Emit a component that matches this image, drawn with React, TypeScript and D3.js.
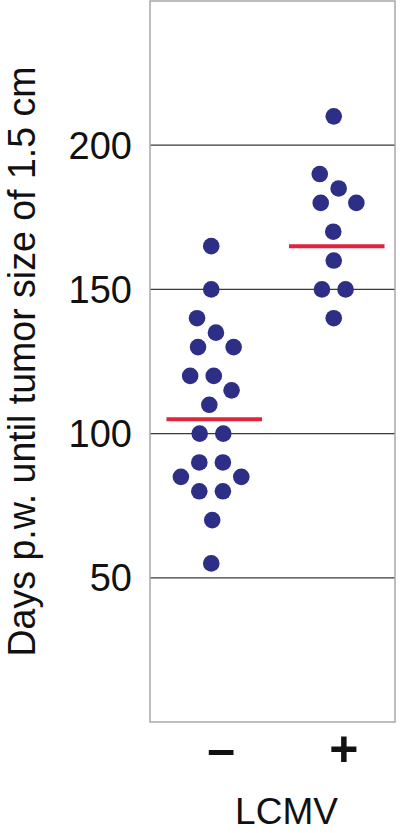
import React, { useRef, useEffect } from "react";
import * as d3 from "d3";

// LCMV groups and days post-wounding until tumor reached 1.5 cm
const groups = ["\u2013", "+"];
const minusDays = [165, 150, 140, 135, 130, 130, 120, 120, 115, 110, 100, 100, 90, 90, 85, 85, 80, 80, 70, 55];
const plusDays = [210, 190, 185, 180, 180, 170, 160, 150, 150, 140];
// red bars as drawn in the figure (group medians)
const groupMedians = [105, 165];
const yTicks = [50, 100, 150, 200];
const yTitle = "Days p.w. until tumor size of 1.5 cm";
const xTitle = "LCMV";

const W = 400;
const H = 833;
const FONT = "'Liberation Sans', Arial, sans-serif";

type Node = { group: string; value: number; x: number; y: number; tx: number; ty: number };

export default function App() {
  const ref = useRef<SVGSVGElement>(null);

  useEffect(() => {
    document.body.style.margin = "0";
    const svg = d3.select(ref.current);
    svg.selectAll("*").remove();

    const left = 150, right = 395, top = 1, bottom = 722;

    const x = d3.scalePoint<string>().domain(groups).range([left, right]).padding(0.5);
    const y = d3.scaleLinear().domain([0, 250]).range([bottom, top]);

    const series: [string, number[]][] = [
      [groups[0], minusDays],
      [groups[1], plusDays],
    ];

    // gridlines
    svg
      .append("g")
      .selectAll("line")
      .data(yTicks)
      .enter()
      .append("line")
      .attr("x1", left)
      .attr("x2", right)
      .attr("y1", (d) => y(d))
      .attr("y2", (d) => y(d))
      .attr("stroke", "#3a3a3a")
      .attr("stroke-width", 1.2);

    // frame
    svg
      .append("rect")
      .attr("x", left)
      .attr("y", top)
      .attr("width", right - left)
      .attr("height", bottom - top)
      .attr("fill", "none")
      .attr("stroke", "#a8a8a8")
      .attr("stroke-width", 1.5);

    // y tick labels
    svg
      .append("g")
      .selectAll("text")
      .data(yTicks)
      .enter()
      .append("text")
      .attr("x", left - 18)
      .attr("y", (d) => y(d))
      .attr("dy", "0.36em")
      .attr("text-anchor", "end")
      .attr("font-family", FONT)
      .attr("font-size", 38)
      .attr("fill", "#111")
      .text((d) => d);

    // y title
    svg
      .append("text")
      .attr("transform", `translate(35,${(top + bottom) / 2}) rotate(-90)`)
      .attr("text-anchor", "middle")
      .attr("font-family", FONT)
      .attr("font-size", 39)
      .attr("textLength", 590)
      .attr("lengthAdjust", "spacingAndGlyphs")
      .attr("fill", "#111")
      .text(yTitle);

    // group labels
    svg
      .append("g")
      .selectAll("text")
      .data(groups)
      .enter()
      .append("text")
      .attr("x", (d) => (x(d) as number) + 10)
      .attr("y", 766)
      .attr("text-anchor", "middle")
      .attr("font-family", FONT)
      .attr("font-size", 50)
      .attr("font-weight", "bold")
      .attr("fill", "#111")
      .text((d) => d);

    svg
      .append("text")
      .attr("x", (left + right) / 2 + 14)
      .attr("y", 824)
      .attr("text-anchor", "middle")
      .attr("font-family", FONT)
      .attr("font-size", 37)
      .attr("fill", "#111")
      .text(xTitle);

    // beeswarm layout via force simulation
    const r = 8.3;
    const nodes: Node[] = [];
    series.forEach(([g, vals]) => {
      vals.forEach((v) => {
        const cx = x(g) as number;
        nodes.push({ group: g, value: v, x: cx, y: y(v), tx: cx, ty: y(v) });
      });
    });
    const sim = d3
      .forceSimulation(nodes as any)
      .force("x", d3.forceX((d: any) => d.tx).strength(0.03))
      .force("y", d3.forceY((d: any) => d.ty).strength(1))
      .force("collide", d3.forceCollide(r + 3.5))
      .stop();
    for (let i = 0; i < 300; i++) sim.tick();

    svg
      .append("g")
      .selectAll("circle")
      .data(nodes)
      .enter()
      .append("circle")
      .attr("cx", (d) => d.x)
      .attr("cy", (d) => y(d.value))
      .attr("r", r)
      .attr("fill", "#2d2f86");

    // median bars
    const half = x.step() * 0.39;
    svg
      .append("g")
      .selectAll("line")
      .data(groups)
      .enter()
      .append("line")
      .attr("x1", (d) => (x(d) as number) + 3 - half)
      .attr("x2", (d) => (x(d) as number) + 3 + half)
      .attr("y1", (d, i) => y(groupMedians[i]))
      .attr("y2", (d, i) => y(groupMedians[i]))
      .attr("stroke", "#e3223c")
      .attr("stroke-width", 4);
  }, []);

  return <svg ref={ref} width={W} height={H} style={{ display: "block" }}></svg>;
}
